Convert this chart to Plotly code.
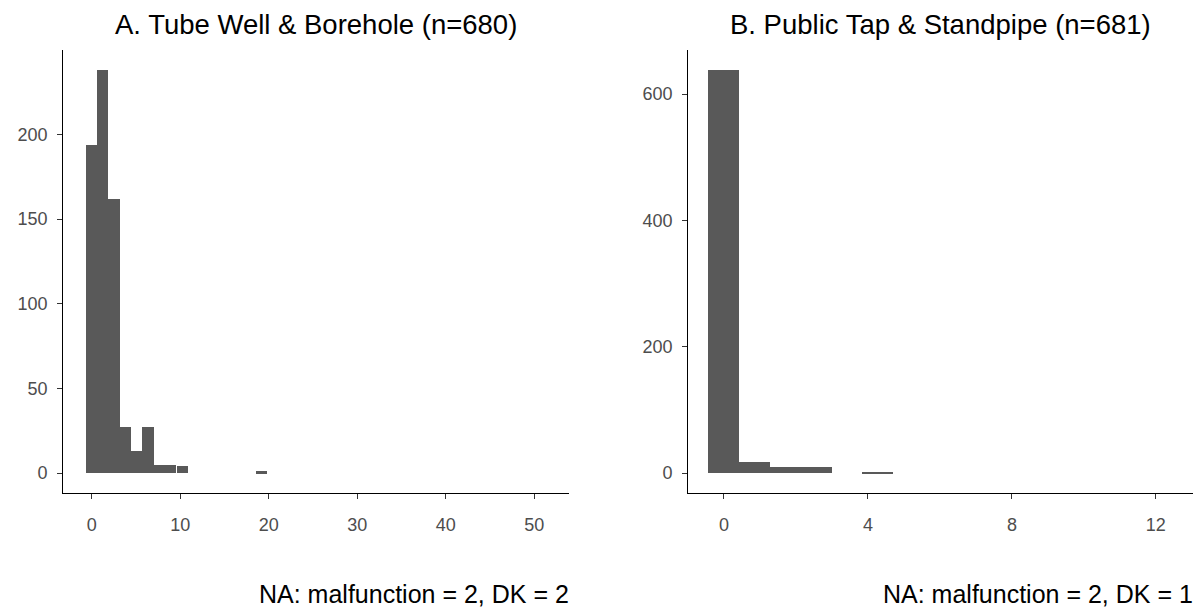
import plotly.graph_objects as go

# Histogram bins (centre of each bin) and counts per panel
tube_bin_centres = [0.0, 1.28, 2.56, 3.85, 5.13, 6.41, 7.69, 8.97, 10.26, 19.23]
tube_counts = [194, 238, 162, 27, 13, 27, 5, 5, 4, 1]
tube_bin_width = 1.28

tap_bin_centres = [0.0, 0.857, 1.714, 2.571, 4.286]
tap_counts = [638, 18, 10, 10, 2]
tap_bin_width = 0.857

titles = ["A. Tube Well & Borehole (n=680)", "B. Public Tap & Standpipe (n=681)"]
captions = ["NA: malfunction = 2, DK = 2", "NA: malfunction = 2, DK = 1"]

tube_xticks = [0, 10, 20, 30, 40, 50]
tube_yticks = [0, 50, 100, 150, 200]
tap_xticks = [0, 4, 8, 12]
tap_yticks = [0, 200, 400, 600]

W, H = 1199, 607
BAR = "#595959"
FONT = "Liberation Sans, Arial, sans-serif"

fig = go.Figure()
fig.add_trace(go.Bar(x=tube_bin_centres, y=tube_counts, width=tube_bin_width,
                     marker=dict(color=BAR, line=dict(width=0)),
                     xaxis="x", yaxis="y", showlegend=False))
fig.add_trace(go.Bar(x=tap_bin_centres, y=tap_counts, width=tap_bin_width,
                     marker=dict(color=BAR, line=dict(width=0)),
                     xaxis="x2", yaxis="y2", showlegend=False))

# panel geometry in pixels
left_px = (63.3, 569.3)
right_px = (688.3, 1193.3)
top_px, bottom_px = 50, 493.3
ydom = [(H - bottom_px) / H, (H - top_px) / H]

def axis_style(ticks):
    return dict(
        tickvals=ticks, ticktext=[str(t) for t in ticks],
        showline=True, linecolor="black", linewidth=1.2,
        ticks="outside", ticklen=5, tickwidth=1.1, tickcolor="#333333",
        tickfont=dict(family=FONT, size=18, color="#4d4d4d"),
        showgrid=False, zeroline=False, fixedrange=True,
    )

tube_max = max(tube_counts)
tap_max = max(tap_counts)

fig.update_layout(
    width=W, height=H,
    margin=dict(l=0, r=0, t=0, b=0),
    paper_bgcolor="white", plot_bgcolor="white",
    bargap=0,
    xaxis=dict(domain=[left_px[0] / W, left_px[1] / W], anchor="y",
               range=[-3.2, 53.95], ticklabelstandoff=10, **axis_style(tube_xticks)),
    yaxis=dict(domain=ydom, anchor="x",
               range=[-0.05 * tube_max, 1.05 * tube_max], ticklabelstandoff=6,
               **axis_style(tube_yticks)),
    xaxis2=dict(domain=[right_px[0] / W, right_px[1] / W], anchor="y2",
                range=[-0.99, 13.04], ticklabelstandoff=10, **axis_style(tap_xticks)),
    yaxis2=dict(domain=ydom, anchor="x2",
                range=[-0.05 * tap_max, 1.05 * tap_max], ticklabelstandoff=6,
                **axis_style(tap_yticks)),
)

annotations = []
for (x0, x1), title, cap in zip([left_px, right_px], titles, captions):
    annotations.append(dict(
        text=title, x=(x0 + x1) / 2 / W, y=1 - 25 / H, xref="paper", yref="paper",
        xanchor="center", yanchor="middle", showarrow=False,
        font=dict(family=FONT, size=27.5, color="black")))
    annotations.append(dict(
        text=cap, x=(x1 + 2) / W, y=1 - 594 / H, xref="paper", yref="paper",
        xanchor="right", yanchor="middle", showarrow=False,
        font=dict(family=FONT, size=25, color="black")))
fig.update_layout(annotations=annotations)

fig.write_html("out.html")
